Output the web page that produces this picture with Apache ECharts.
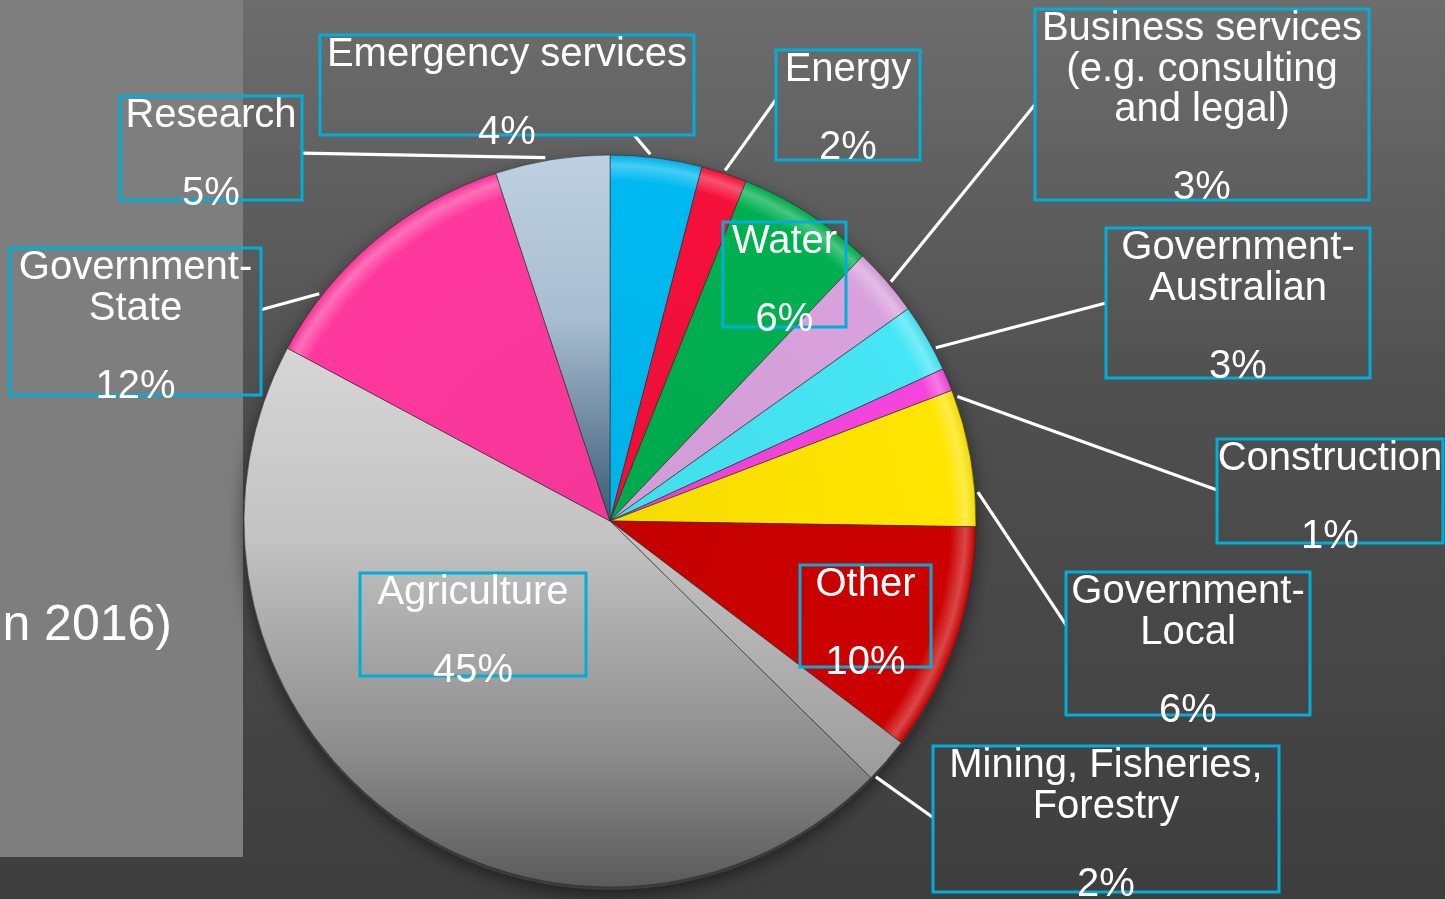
<!DOCTYPE html>
<html>
<head>
<meta charset="utf-8">
<script src="https://cdn.jsdelivr.net/npm/echarts@6/dist/echarts.min.js"></script>
<style>
  html, body { margin: 0; padding: 0; background: #4a4a4b; }
  #chart { width: 1445px; height: 899px; }
</style>
</head>
<body>
<div id="chart"></div>
<script>
// Sectors, clockwise from 12 o'clock
const sectors = [
  'Emergency services',
  'Energy',
  'Water',
  'Business services\n(e.g. consulting\nand legal)',
  'Government-\nAustralian',
  'Construction',
  'Government-\nLocal',
  'Other',
  'Mining, Fisheries,\nForestry',
  'Agriculture',
  'Government-\nState',
  'Research'
];
// Share of respondents, percent
const shares = [4, 2, 6, 3, 3, 1, 6, 10, 2, 45, 12, 5];

// ---- styling & layout (kept apart from the data) ----
const sliceColors = ['#00b9f1', '#f5103a', '#00b050', '#d9a2de', '#45e6f5', '#f445dc',
                     '#ffe500', '#cc0000', '#b4b4b4', '#c4c4c4', '#ff389e', '#b8cbdc'];
// vertical shading used by the grey slices
const shadedFills = {
  'Agriculture': [[0, '#d6d6d6'], [0.35, '#c3c3c3'], [0.75, '#8c8c8c'], [1, '#5a5a5a']],
  'Research': [[0, '#bed0e1'], [0.45, '#a8bdd0'], [1, '#3a5a76']],
  'Mining, Fisheries,\nForestry': [[0, '#c6c6c6'], [1, '#9c9c9c']]
};
// label boxes in px: [left, top, right, bottom]
const labelBoxes = [
  [320, 35, 694, 135],
  [776, 50, 920, 160],
  [723, 222, 846, 327],
  [1035, 9, 1369, 200],
  [1106, 228, 1370, 378],
  [1217, 439, 1443, 543],
  [1066, 572, 1310, 715],
  [800, 565, 931, 667],
  [933, 746, 1279, 892],
  [360, 573, 586, 676],
  [10, 248, 261, 395],
  [120, 96, 302, 200]
];
const labelInside = [false, false, true, false, false, false, false, true, false, true, false, false];
// leader lines: box side + position along it, and angular nudge (deg) of the pie-end
const leaderAttach = [
  ['bottom', 0.84], ['left', 0.45], null, ['left', 0.5], ['left', 0.5], ['left', 0.49],
  ['left', 0.37], null, ['left', 0.49], null, ['right', 0.42], ['right', 0.55]
];
const leaderNudge = [-1, 0, 0, 0.5, 2, 3, 5.5, 0, 3, 0, -12, -1];

const W = 1445, H = 899;
const PIE_CX = 610, PIE_CY = 521, PIE_R = 366;

function tint(hex, t) {
  const n = parseInt(hex.slice(1), 16);
  const ch = [(n >> 16) & 255, (n >> 8) & 255, n & 255];
  const f = c => Math.round(t >= 0 ? c + (255 - c) * t : c * (1 + t));
  return 'rgb(' + ch.map(f).join(',') + ')';
}

function sliceFill(i) {
  const stops = shadedFills[sectors[i]];
  if (stops) {
    return new echarts.graphic.LinearGradient(0, 0, 0, 1,
      stops.map(s => ({ offset: s[0], color: s[1] })));
  }
  const c = sliceColors[i];
  // bevelled rim: flat body, light band near the edge
  return new echarts.graphic.RadialGradient(PIE_CX, PIE_CY, PIE_R, [
    { offset: 0, color: tint(c, -0.04) },
    { offset: 0.93, color: c },
    { offset: 0.972, color: tint(c, 0.28) },
    { offset: 1, color: tint(c, -0.05) }
  ], true);
}

// mid angle of every slice, degrees clockwise from 12 o'clock
const total = shares.reduce((a, b) => a + b, 0);
const midAngles = [];
shares.reduce((cum, v) => { midAngles.push(360 * (cum + v / 2) / total); return cum + v; }, 0);

const pieData = sectors.map((name, i) => ({
  name: name,
  value: shares[i],
  itemStyle: { color: sliceFill(i) },
  label: {
    width: labelBoxes[i][2] - labelBoxes[i][0],
    height: labelBoxes[i][3] - labelBoxes[i][1]
  },
  labelLine: { show: !labelInside[i] }
}));

const FONT = '"Liberation Sans", Arial, sans-serif';
const chart = echarts.init(document.getElementById('chart'), null, { renderer: 'canvas' });

chart.setOption({
  animation: false,
  backgroundColor: {
    type: 'linear', x: 0, y: 0, x2: 0, y2: 1,
    colorStops: [
      { offset: 0, color: '#6d6d6e' },
      { offset: 0.45, color: '#4f4f50' },
      { offset: 1, color: '#3e3e3f' }
    ]
  },
  graphic: [
    {
      type: 'rect', z: 0, silent: true,
      shape: { x: 0, y: 0, width: 243, height: 857 },
      style: { fill: '#7e7e7e' }
    },
    {
      type: 'text', z: 1, silent: true,
      style: {
        x: 172, y: 626, text: 'n 2016)', fill: '#ffffff',
        font: '50px ' + FONT,
        align: 'right', verticalAlign: 'middle'
      }
    },
    {
      type: 'circle', z: 1, silent: true,
      shape: { cx: PIE_CX, cy: PIE_CY + 3, r: PIE_R },
      style: { fill: '#3c3c3c', shadowBlur: 18, shadowColor: 'rgba(0,0,0,0.55)', shadowOffsetY: 4 }
    }
  ],
  series: [{
    type: 'pie',
    z: 2,
    center: [PIE_CX / W * 100 + '%', PIE_CY / H * 100 + '%'],
    radius: PIE_R,
    startAngle: 90,
    clockwise: true,
    avoidLabelOverlap: false,
    emphasis: { disabled: true },
    itemStyle: { borderColor: 'rgba(40,40,40,0.55)', borderWidth: 1 },
    label: {
      show: true,
      position: 'outside',
      formatter: p => '{n|' + p.name + '}\n{g| }\n{p|' + p.value + '%}',
      color: '#ffffff',
      fontFamily: FONT,
      fontSize: 40,
      overflow: 'none',
      padding: 0,
      borderColor: '#00aed8',
      borderWidth: 3,
      rich: {
        n: { fontFamily: FONT, fontSize: 40, lineHeight: 40.5, color: '#ffffff', align: 'center' },
        g: { fontFamily: FONT, fontSize: 10, lineHeight: 37, align: 'center' },
        p: { fontFamily: FONT, fontSize: 40, lineHeight: 41, color: '#ffffff', align: 'center' }
      }
    },
    labelLine: {
      show: true, length: 12, length2: 12,
      lineStyle: { color: '#ffffff', width: 3.2 }
    },
    labelLayout: function (p) {
      const i = p.dataIndex;
      const b = labelBoxes[i];
      const res = {
        x: (b[0] + b[2]) / 2, y: b[1],
        align: 'center', verticalAlign: 'top',
        width: b[2] - b[0], height: b[3] - b[1]
      };
      const att = leaderAttach[i];
      if (att) {
        const th = (midAngles[i] + leaderNudge[i]) * Math.PI / 180;
        const r = PIE_R + 3;
        const s = [PIE_CX + r * Math.sin(th), PIE_CY - r * Math.cos(th)];
        let e;
        if (att[0] === 'left' || att[0] === 'right') {
          e = [att[0] === 'left' ? b[0] : b[2], b[1] + (b[3] - b[1]) * att[1]];
        } else {
          e = [b[0] + (b[2] - b[0]) * att[1], att[0] === 'top' ? b[1] : b[3]];
        }
        res.labelLinePoints = [s, e];
      }
      return res;
    },
    data: pieData
  }]
});
</script>
</body>
</html>
